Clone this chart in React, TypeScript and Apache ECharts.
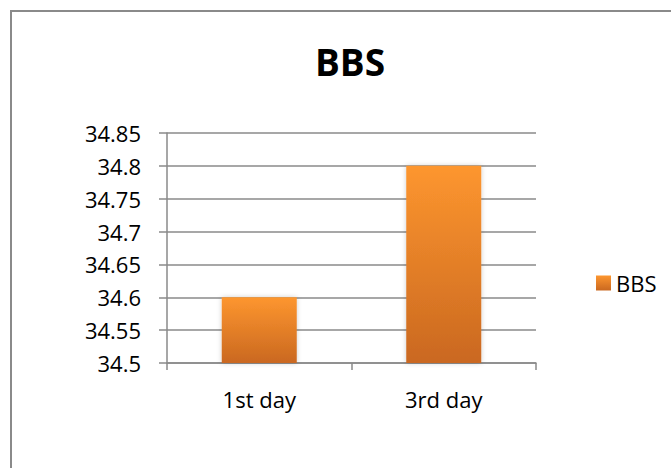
import React, { useEffect, useRef } from "react";
import * as echarts from "echarts";

const categories = ["1st day", "3rd day"];
const seriesName = "BBS";
const values = [34.6, 34.8];
const yMin = 34.5;
const yMax = 34.85;
const yStep = 0.05;

export default function App() {
  const ref = useRef<HTMLDivElement>(null);
  useEffect(() => {
    document.body.style.margin = "0";
    const chart = echarts.init(ref.current!, undefined, { renderer: "svg" });
    const font = "'Open Sans', 'Noto Sans', sans-serif";
    const grad = new echarts.graphic.LinearGradient(0, 0, 0, 1, [
      { offset: 0, color: "#fd962f" },
      { offset: 1, color: "#ca6820" },
    ]);
    chart.setOption({
      animation: false,
      backgroundColor: "#ffffff",
      title: {
        text: seriesName,
        left: 345,
        top: 38,
        textAlign: "center",
        textStyle: { fontFamily: font, fontSize: 37, fontWeight: "bold", color: "#000" },
      },
      graphic: [
        {
          type: "rect",
          shape: { x: 11, y: 11, width: 720, height: 520 },
          style: { fill: "none", stroke: "#8a8a8a", lineWidth: 2 },
          silent: true,
        },
      ],
      legend: {
        left: 591,
        top: 267,
        itemWidth: 15,
        itemHeight: 15,
        icon: "rect",
        data: [seriesName],
        textStyle: { fontFamily: font, fontSize: 22, color: "#000" },
      },
      grid: { left: 167, right: 135, top: 133, bottom: 105 },
      xAxis: {
        type: "category",
        data: categories,
        axisLine: { show: true, lineStyle: { color: "#8a8a8a", width: 1.5 } },
        axisTick: { show: true, length: 7, lineStyle: { color: "#8a8a8a", width: 1.5 } },
        axisLabel: { margin: 25, fontFamily: font, fontSize: 22, color: "#000" },
        splitLine: { show: false },
      },
      yAxis: {
        type: "value",
        min: yMin,
        max: yMax,
        interval: yStep,
        axisLine: { show: true, lineStyle: { color: "#8a8a8a", width: 1.5 } },
        axisTick: { show: true, length: 8, lineStyle: { color: "#8a8a8a", width: 1.5 } },
        axisLabel: {
          margin: 26,
          fontFamily: font,
          fontSize: 22,
          color: "#000",
          formatter: (v: number) => String(+v.toFixed(2)),
        },
        splitLine: { show: true, lineStyle: { color: "#8a8a8a", width: 1.5 } },
      },
      series: [
        {
          name: seriesName,
          type: "bar",
          data: values,
          barWidth: 75,
          itemStyle: {
            color: grad,
            shadowBlur: 5,
            shadowColor: "rgba(0,0,0,0.2)",
          },
        },
      ],
    });
    return () => chart.dispose();
  }, []);
  return <div ref={ref} style={{ width: 671, height: 468 }} />;
}
